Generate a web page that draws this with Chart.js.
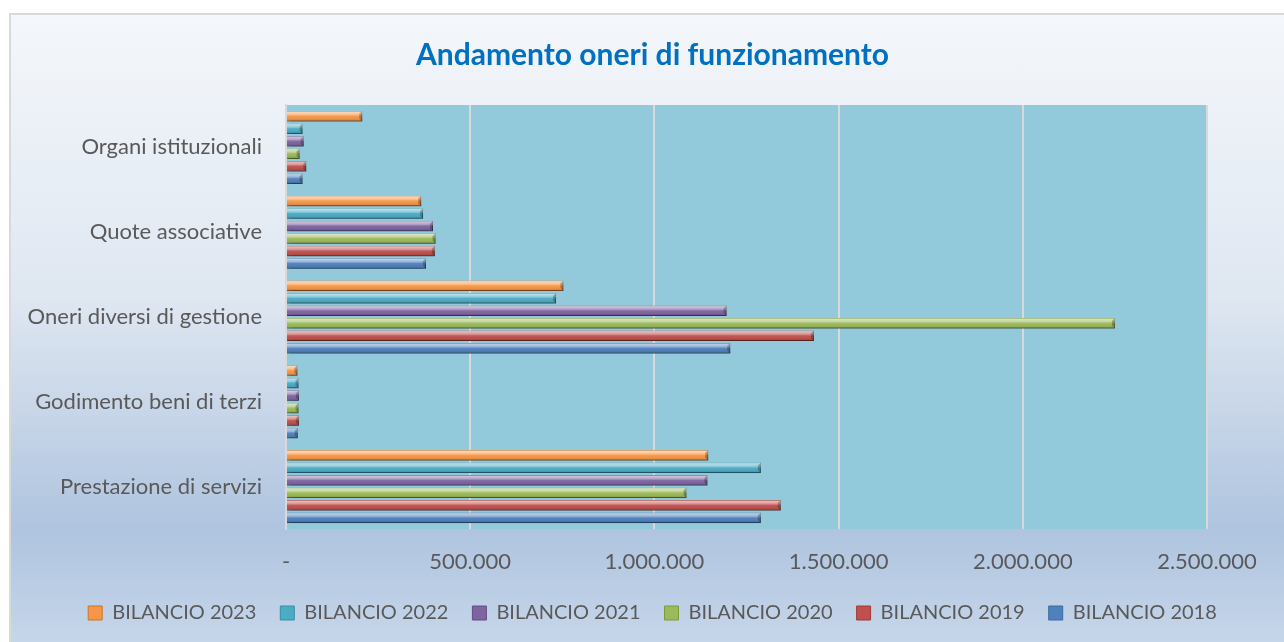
<!DOCTYPE html>
<html>
<head>
<meta charset="utf-8">
<script src="https://cdn.jsdelivr.net/npm/chart.js@4/dist/chart.umd.min.js"></script>
<style>
  html, body { margin: 0; padding: 0; background: #ffffff; }
  #frame {
    position: absolute; left: 9px; top: 13px; right: 0; bottom: 0;
    border-left: 2px solid #d9d9d9; border-top: 2px solid #d9d9d9;
    background: linear-gradient(to bottom, #f4f7fb 0%, #dfe7f1 45%, #afc4df 82%, #c6d6ea 100%);
  }
  #wrap { position: absolute; left: 0; top: 0; width: 1284px; height: 642px; }
</style>
</head>
<body>
<div id="frame"></div>
<div id="wrap"><canvas id="c" width="1284" height="642"></canvas></div>
<script>
const titleText = 'Andamento oneri di funzionamento';
const categories = ['Organi istituzionali', 'Quote associative', 'Oneri diversi di gestione', 'Godimento beni di terzi', 'Prestazione di servizi'];
const seriesNames = ['BILANCIO 2023', 'BILANCIO 2022', 'BILANCIO 2021', 'BILANCIO 2020', 'BILANCIO 2019', 'BILANCIO 2018'];
const bil2023 = [207000, 367000, 753000, 31000, 1146000];
const bil2022 = [45000, 372000, 733000, 34000, 1289000];
const bil2021 = [48000, 399000, 1196000, 35000, 1144000];
const bil2020 = [37000, 406000, 2250000, 34000, 1087000];
const bil2019 = [55000, 404000, 1433000, 35000, 1343000];
const bil2018 = [45000, 380000, 1206000, 32000, 1289000];
const xTickValues = [0, 500000, 1000000, 1500000, 2000000, 2500000];
const xTickLabels = ['-', '500.000', '1.000.000', '1.500.000', '2.000.000', '2.500.000'];

const seriesValues = [bil2023, bil2022, bil2021, bil2020, bil2019, bil2018];
const fillColors = ['#f79646', '#4bacc6', '#8064a2', '#9bbb59', '#c0504d', '#4f81bd'];
const edgeColors = ['#c8742f', '#3a8ea5', '#654c85', '#7a9a3e', '#9c3b38', '#3d6aa0'];

const plotBg = {
  id: 'plotBg',
  beforeDraw(chart) {
    const {ctx, chartArea: a} = chart;
    ctx.save();
    ctx.fillStyle = '#92cadb';
    ctx.fillRect(a.left, a.top, a.right - a.left, a.bottom - a.top);
    ctx.restore();
  }
};

const barShadow = {
  id: 'barShadow',
  beforeDatasetsDraw(chart) {
    const ctx = chart.ctx;
    ctx.save();
    ctx.shadowColor = 'rgba(0,0,0,0.3)';
    ctx.shadowBlur = 4;
    ctx.shadowOffsetX = 2;
    ctx.shadowOffsetY = 3;
  },
  afterDatasetsDraw(chart) {
    const ctx = chart.ctx;
    ctx.restore();
    // bevel lighting overlay on each bar element drawn by the library
    ctx.save();
    chart.data.datasets.forEach((ds, di) => {
      const meta = chart.getDatasetMeta(di);
      meta.data.forEach(el => {
        const p = el.getProps(['x', 'y', 'base', 'height'], true);
        const top = p.y - p.height / 2, h = p.height;
        const left = Math.min(p.base, p.x), w = Math.abs(p.x - p.base);
        const g = ctx.createLinearGradient(0, top, 0, top + h);
        g.addColorStop(0, 'rgba(255,255,255,0.25)');
        g.addColorStop(0.12, 'rgba(255,255,255,0.6)');
        g.addColorStop(0.35, 'rgba(255,255,255,0.4)');
        g.addColorStop(0.5, 'rgba(255,255,255,0.05)');
        g.addColorStop(0.8, 'rgba(0,0,0,0.05)');
        g.addColorStop(1, 'rgba(0,0,0,0.28)');
        ctx.fillStyle = g;
        ctx.fillRect(left, top, w, h);
        // bevelled right end
        const b = Math.min(3, w / 2);
        ctx.fillStyle = 'rgba(0,0,0,0.25)';
        ctx.beginPath();
        ctx.moveTo(left + w, top);
        ctx.lineTo(left + w, top + h);
        ctx.lineTo(left + w - b, top + h - b);
        ctx.lineTo(left + w - b, top + b);
        ctx.closePath();
        ctx.fill();
      });
    });
    ctx.restore();
  }
};

new Chart(document.getElementById('c'), {
  type: 'bar',
  data: {
    labels: categories,
    datasets: seriesNames.map((name, i) => ({
      label: name,
      data: seriesValues[i],
      backgroundColor: fillColors[i],
      borderColor: edgeColors[i],
      borderWidth: 1,
      borderSkipped: 'start',
      categoryPercentage: 0.885,
      barPercentage: 0.84,
      xAxisID: 'x',
      yAxisID: 'y'
    }))
  },
  options: {
    indexAxis: 'y',
    responsive: false,
    animation: false,
    layout: { padding: { left: 21, right: 0, top: 13, bottom: 9 } },
    scales: {
      x: {
        type: 'linear',
        position: 'bottom',
        min: 0,
        max: 2500000,
        afterBuildTicks(scale) { scale.ticks = xTickValues.map(v => ({ value: v })); },
        afterFit(scale) { scale.height = 50; },
        grid: { color: '#d9d9d9', lineWidth: 2, drawTicks: false },
        border: { display: false },
        ticks: {
          padding: 20,
          color: '#595959',
          font: { family: 'Lato', size: 22 },
          callback(value) {
            const i = xTickValues.indexOf(value);
            return i >= 0 ? xTickLabels[i] : '';
          }
        }
      },
      y: {
        type: 'category',
        position: 'left',
        afterFit(scale) { scale.width = 265; },
        grid: { display: false, drawTicks: false },
        border: { display: true, color: '#d9d9d9', width: 2 },
        ticks: {
          padding: 24,
          color: '#595959',
          font: { family: 'Lato', size: 22 }
        }
      },
      yRight: {
        type: 'linear',
        position: 'right',
        min: 0, max: 1,
        afterFit(scale) { scale.width = 77; },
        grid: { display: false, drawTicks: false },
        border: { display: false },
        ticks: { display: false }
      }
    },
    plugins: {
      title: {
        display: true,
        text: titleText,
        color: '#0070c0',
        font: { family: 'Lato', size: 30, weight: 'bold', lineHeight: 1.2 },
        padding: { top: 24, bottom: 32 }
      },
      legend: {
        position: 'bottom',
        labels: {
          boxWidth: 14,
          boxHeight: 14,
          padding: 24,
          color: '#595959',
          font: { family: 'Lato', size: 20 },
          generateLabels(chart) {
            return chart.data.datasets.map((ds, i) => ({
              text: ds.label,
              fillStyle: fillColors[i],
              strokeStyle: edgeColors[i],
              lineWidth: 1,
              hidden: false,
              datasetIndex: i,
              fontColor: '#595959'
            }));
          }
        }
      },
      tooltip: { enabled: false }
    }
  },
  plugins: [plotBg, barShadow]
});
</script>
</body>
</html>
